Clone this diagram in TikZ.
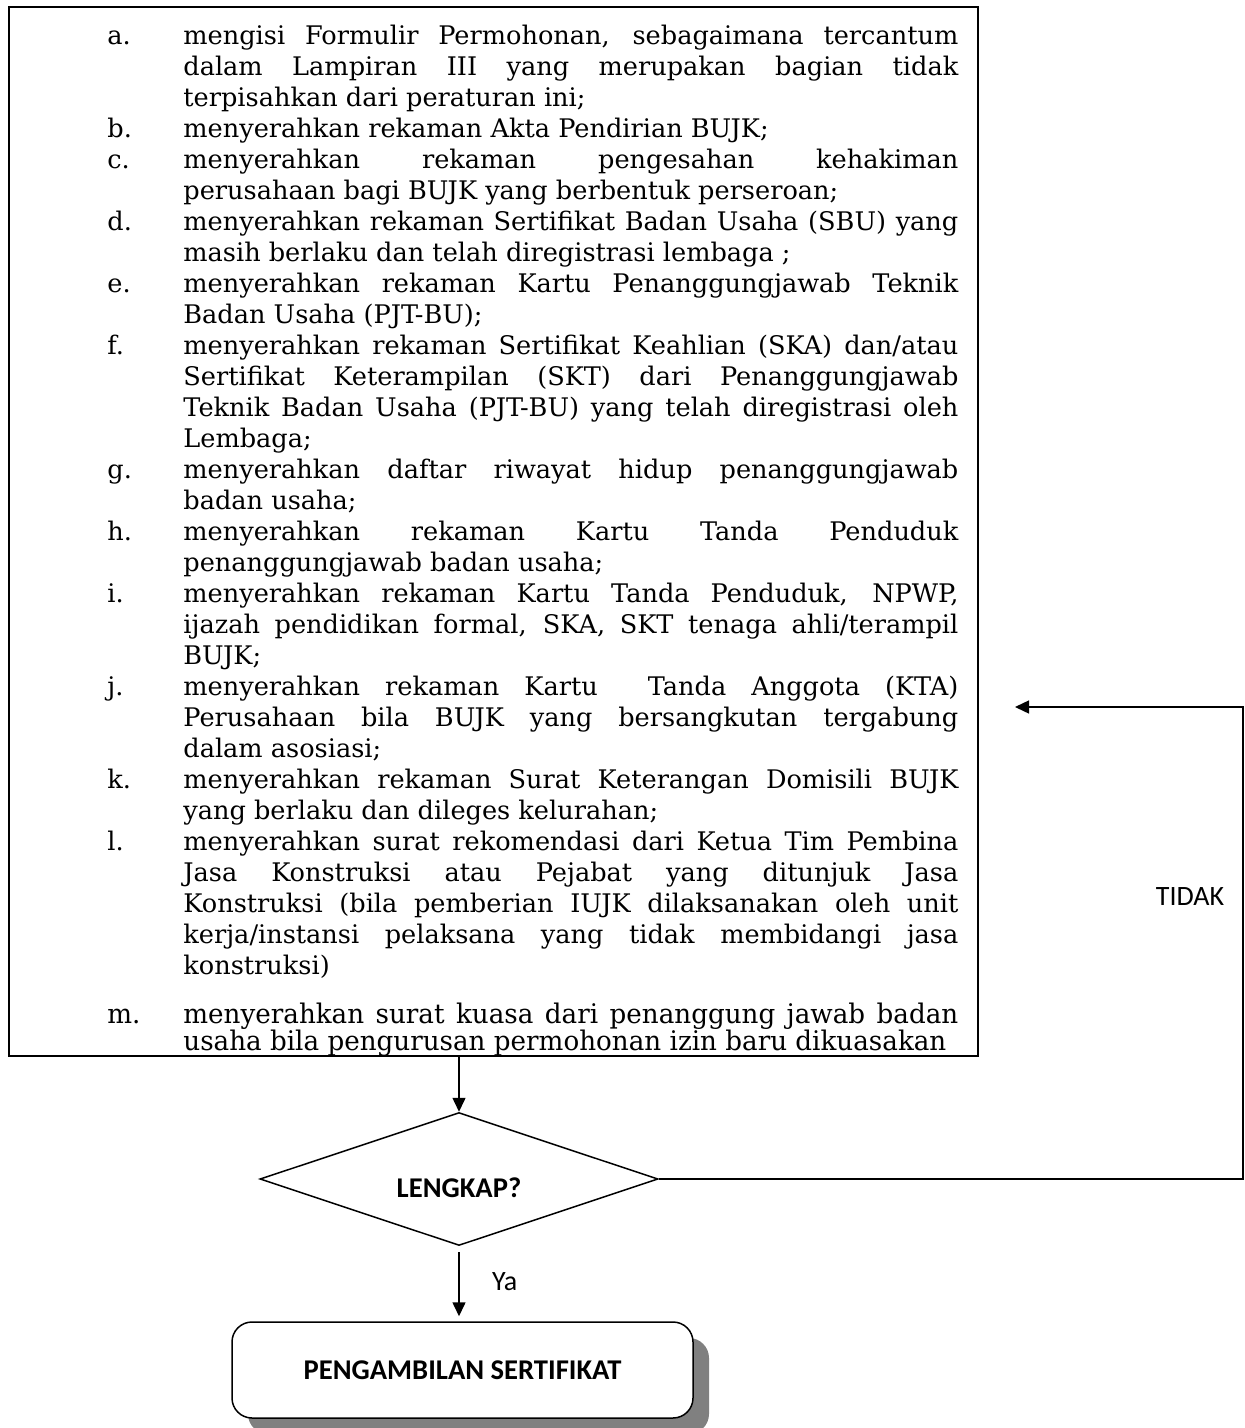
\documentclass[tikz,border=0pt]{standalone}
\usepackage{fontspec}
\setmainfont{DejaVu Serif}
\newfontfamily\carlito{Carlito}
\newfontfamily\sempit[FakeStretch=0.97]{DejaVu Serif}
\usetikzlibrary{shapes.geometric,arrows.meta,shadows}

\hyphenpenalty=10000
\exhyphenpenalty=10000
\tolerance=9999

\newcommand{\butir}[2]{\noindent\hangindent=38pt\hangafter=1\makebox[38pt][l]{#1}#2\par}

\begin{document}
\begin{tikzpicture}[x=0.5pt,y=-0.5pt,
	syarat/.style={
		rectangle,
		draw=black,
		line width=0.8pt,
		inner sep=0pt,
		minimum width=484.5pt,
		minimum height=524.5pt
	},
	isi/.style={
		anchor=base west,
		inner sep=0pt,
		text width=425.5pt,
		align=justify,
		font=\fontsize{12.8}{15.5}\selectfont
	},
	keputusan/.style={
		diamond,
		draw=black,
		line width=0.75pt,
		inner sep=0pt,
		minimum width=199pt,
		minimum height=66.5pt
	},
	hasil/.style={
		rectangle,
		draw=black,
		line width=0.75pt,
		rounded corners=10pt,
		fill=white,
		minimum width=230.5pt,
		minimum height=48pt,
		font=\carlito\bfseries\fontsize{14.3}{16}\selectfont,
		drop shadow={shadow xshift=8pt, shadow yshift=-8pt, fill=black!50, opacity=1}
	},
	tebal/.style={
		font=\carlito\bfseries\fontsize{14.3}{16}\selectfont
	},
	keterangan/.style={
		font=\carlito\fontsize{14}{16}\selectfont
	},
	panah/.style={
		line width=0.75pt,
		-{Triangle[length=7pt,width=6.5pt]}
	},
]
\useasboundingbox (0,0) rectangle (1245,1428);

% Persyaratan
\node[syarat] (kotak) at (493.5,531.5) {};

\node[isi] (daftar) at (107,44.5) {%
\butir{a.}{mengisi Formulir Permohonan, sebagaimana tercantum \linebreak dalam Lampiran III yang merupakan bagian tidak \linebreak terpisahkan dari peraturan ini;}%
\butir{b.}{menyerahkan rekaman Akta Pendirian BUJK;}%
\butir{c.}{menyerahkan rekaman pengesahan kehakiman \linebreak perusahaan bagi BUJK yang berbentuk perseroan;}%
\butir{d.}{menyerahkan rekaman Sertifikat Badan Usaha (SBU) yang \linebreak masih berlaku dan telah diregistrasi lembaga ;}%
\butir{e.}{menyerahkan rekaman Kartu Penanggungjawab Teknik \linebreak Badan Usaha (PJT-BU);}%
\butir{f.}{menyerahkan rekaman Sertifikat Keahlian (SKA) dan/atau \linebreak Sertifikat Keterampilan (SKT) dari Penanggungjawab \linebreak Teknik Badan Usaha (PJT-BU) yang telah diregistrasi oleh \linebreak Lembaga;}%
\butir{g.}{menyerahkan daftar riwayat hidup penanggungjawab \linebreak badan usaha;}%
\butir{h.}{menyerahkan rekaman Kartu Tanda Penduduk \linebreak penanggungjawab badan usaha;}%
\butir{i.}{menyerahkan rekaman Kartu Tanda Penduduk, NPWP, \linebreak ijazah pendidikan formal, SKA, SKT tenaga ahli/terampil \linebreak BUJK;}%
\butir{j.}{menyerahkan rekaman Kartu\ \ Tanda Anggota (KTA) \linebreak Perusahaan bila BUJK yang bersangkutan tergabung \linebreak dalam asosiasi;}%
\butir{k.}{menyerahkan rekaman Surat Keterangan Domisili BUJK \linebreak yang berlaku dan dileges kelurahan;}%
\butir{l.}{menyerahkan surat rekomendasi dari Ketua Tim Pembina \linebreak Jasa Konstruksi atau Pejabat yang ditunjuk Jasa \linebreak Konstruksi (bila pemberian IUJK dilaksanakan oleh unit \linebreak kerja/instansi pelaksana yang tidak membidangi jasa \linebreak konstruksi)}%
};

\begin{scope}
\clip (kotak.south west) rectangle (kotak.north east);
\node[isi, font=\sempit\fontsize{13.5}{13.5}\selectfont] (butirm) at (107,1023) {%
\butir{m.}{menyerahkan surat kuasa dari penanggung jawab badan \linebreak usaha bila pengurusan permohonan izin baru dikuasakan}%
};
\end{scope}

% Pemeriksaan
\node[keputusan] (cek) at (459,1179) {};
\node[tebal] (tanya) at ([yshift=-4.5pt]cek.center) {LENGKAP?};
\draw[panah] (kotak.south -| cek.north) -- (cek.north);

% Hasil
\node[hasil] (ambil) at (462.5,1370) {PENGAMBILAN SERTIFIKAT};
\draw[panah, shorten >=2.5pt] ([yshift=-3pt]cek.south) -- (cek.south |- ambil.north);
\node[keterangan, anchor=west] (ya) at (485,1282) {Ya};

% Kembali
\coordinate (balik) at (1243,707);
\coordinate (tuju) at (1015,707);
\draw[panah] (cek.east) -| (balik) -- (tuju);
\node[keterangan] (tidak) at (1190,897) {TIDAK};

\end{tikzpicture}
\end{document}
